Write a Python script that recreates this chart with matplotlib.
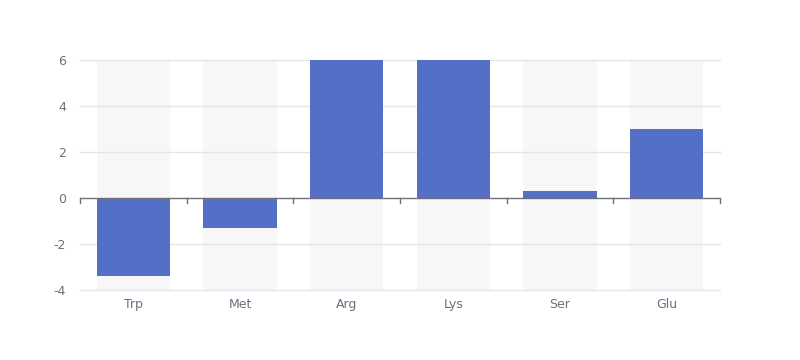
import matplotlib
matplotlib.use('Agg')
import matplotlib.pyplot as plt
import numpy as np

categories = ['Trp', 'Met', 'Arg', 'Lys', 'Ser', 'Glu']
values = [-3.4, -1.3, 6, 6, 0.3, 3]
y_ticks = [-4, -2, 0, 2, 4, 6]

bar_color = '#5470c6'
band_color = '#f7f7f7'
grid_color = '#e0e6f1'
axis_color = '#6e7079'

fig = plt.figure(figsize=(8, 3.6), dpi=100)
ax = fig.add_axes([0.1, 70 / 360, 0.8, 230 / 360])

x = np.arange(len(categories))
width = 0.69
ymin, ymax = y_ticks[0], y_ticks[-1]

# background bands behind each bar
ax.bar(x, ymax - ymin, bottom=ymin, width=width, color=band_color, zorder=1)
ax.bar(x, values, width=width, color=bar_color, zorder=3)

ax.set_xlim(-0.5, len(categories) - 0.5)
ax.set_ylim(ymin, ymax)

for t in y_ticks:
    if t != 0:
        ax.axhline(t, color=grid_color, lw=1, zorder=2, clip_on=False)
ax.axhline(0, color=axis_color, lw=1, zorder=4)

# category boundary ticks hanging from the zero line
for b in np.arange(-0.5, len(categories), 1.0):
    ax.plot([b, b], [0, -5 / 23], color=axis_color, lw=1, zorder=4, clip_on=False)

for s in ax.spines.values():
    s.set_visible(False)

ax.set_yticks(y_ticks)
ax.set_yticklabels([str(t) for t in y_ticks])
ax.set_xticks(x)
ax.set_xticklabels(categories)
ax.tick_params(axis='both', length=0, colors=axis_color, labelsize=9)
ax.tick_params(axis='y', pad=10)
ax.tick_params(axis='x', pad=6)

fig.savefig('out.png', dpi=100)
